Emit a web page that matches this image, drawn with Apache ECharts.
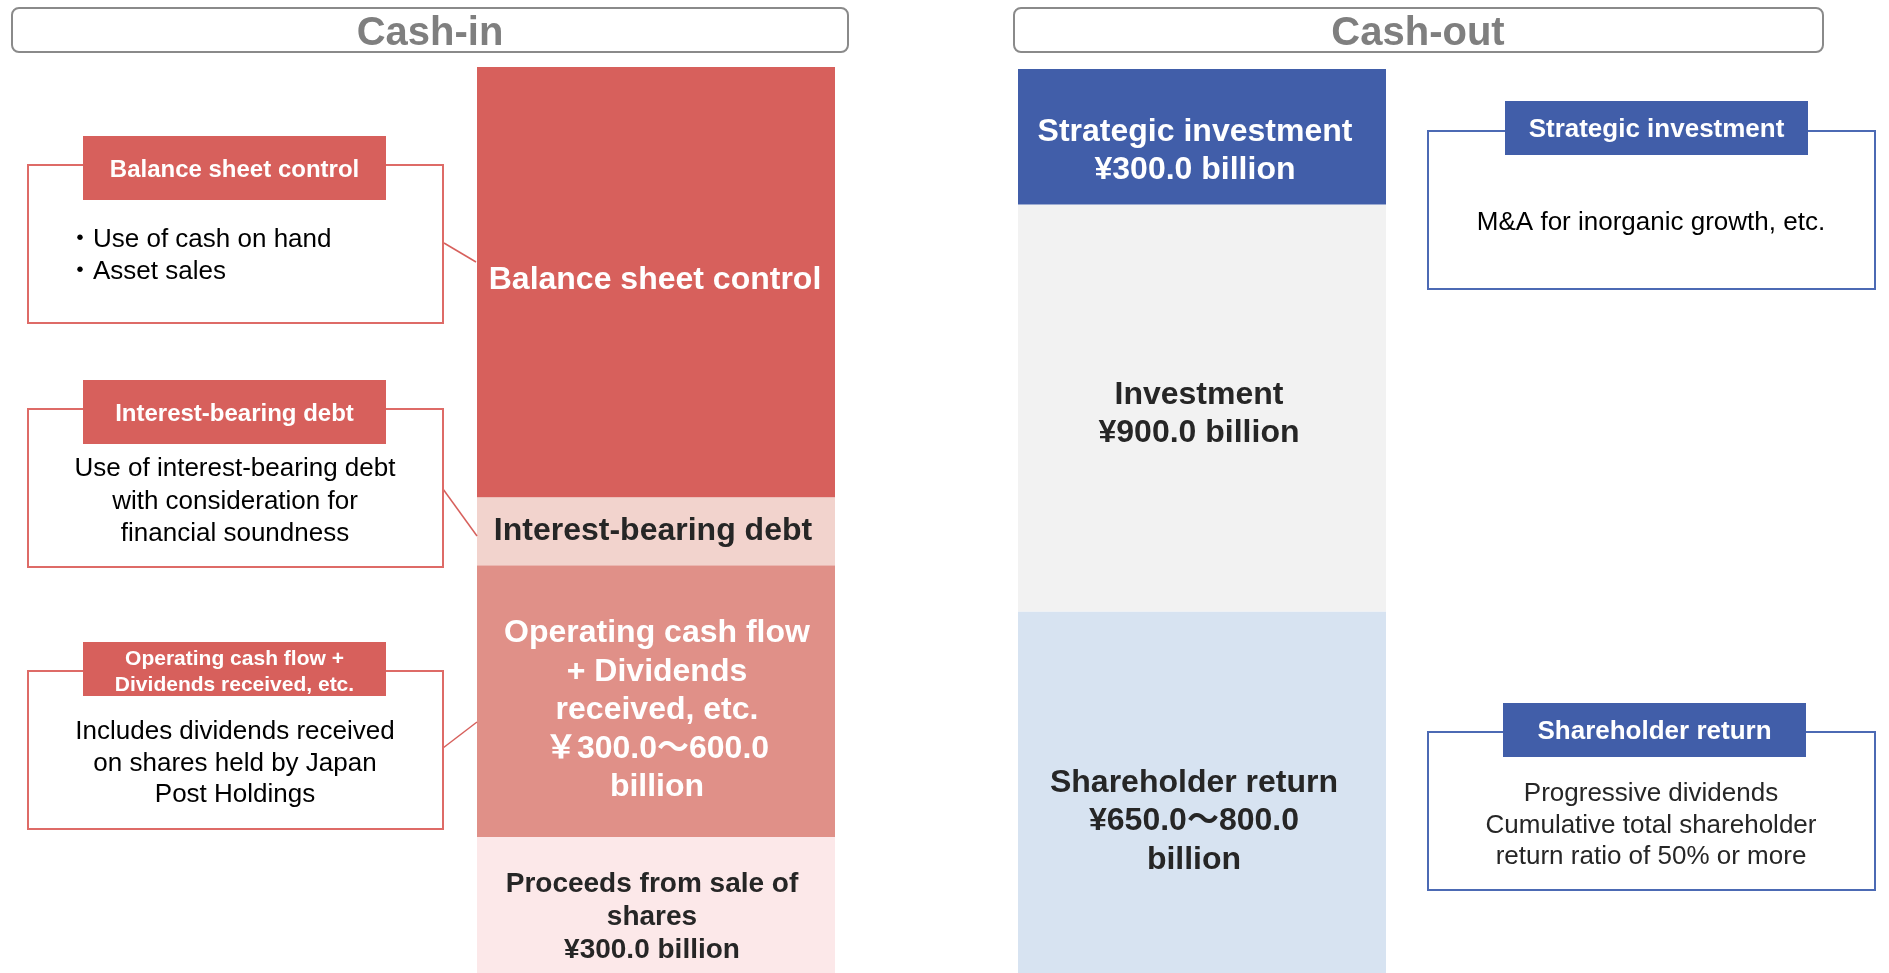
<!DOCTYPE html>
<html>
<head>
<meta charset="utf-8">
<script src="https://cdn.jsdelivr.net/npm/echarts@6/dist/echarts.min.js"></script>
<style>
  html, body { margin: 0; padding: 0; background: #ffffff; }
  #chart { width: 1889px; height: 973px; }
</style>
</head>
<body>
<div id="chart"></div>
<script>
// ---------- Data (billion yen) ----------
const headerTitles = ['Cash-in', 'Cash-out'];

// Cash-in stack, bottom to top
const cashInNames = ['Proceeds from sale of shares', 'Operating cash flow + Dividends received, etc.', 'Interest-bearing debt', 'Balance sheet control'];
const cashInValues = [300, 600, 150, 950];
const cashInLabels = [
  'Proceeds from sale of\nshares\n¥300.0 billion',
  'Operating cash flow\n+ Dividends\nreceived, etc.\n￥300.0～600.0\nbillion',
  'Interest-bearing debt',
  'Balance sheet control'
];

// Cash-out stack, bottom to top
const cashOutNames = ['Shareholder return', 'Investment', 'Strategic investment'];
const cashOutValues = [800, 900, 300];
const cashOutLabels = [
  'Shareholder return\n¥650.0～800.0\nbillion',
  'Investment\n¥900.0 billion',
  'Strategic investment\n¥300.0 billion'
];

const stackMax = 2000;

// Annotation texts
const noteInTitles = [['Balance sheet control'], ['Interest-bearing debt'], ['Operating cash flow +', 'Dividends received, etc.']];
const noteInBodies = [
  ['・Use of cash on hand', '・Asset sales'],
  ['Use of interest-bearing debt', 'with consideration for', 'financial soundness'],
  ['Includes dividends received', 'on shares held by Japan', 'Post Holdings']
];
const noteOutTitles = ['Strategic investment', 'Shareholder return'];
const noteOutBodies = [
  ['M&A for inorganic growth, etc.'],
  ['Progressive dividends', 'Cumulative total shareholder', 'return ratio of 50% or more']
];

// ---------- Styles ----------
const FONT = "'Liberation Sans', Arial, 'Noto Sans CJK JP', sans-serif";
const inColors = ['#FCE8E9', '#E09088', '#F2D3CD', '#D7605C'];
const inTextColors = ['#262626', '#ffffff', '#262626', '#ffffff'];
const inFontSizes = [28, 32, 32, 32];
const inLineHeights = [33, 38.5, 38, 38];
const inOffsets = [[-4, 12], [1, 9], [-3, 0], [-1, -2]];

const outColors = ['#D7E3F1', '#F2F2F2', '#415EA9'];
const outTextColors = ['#262626', '#262626', '#ffffff'];
const outLineHeights = [38.5, 38, 38];
const outOffsets = [[-8, 29], [-3, 6], [-7, 14]];

const RED = '#D7605C';
const RED_LINE = '#DE6B67';
const BLUE = '#415EA9';
const BLUE_LINE = '#4C6AB4';
const TEXT_DY = 2;

const chart = echarts.init(document.getElementById('chart'), null, { renderer: 'canvas' });

const series = [];
cashInValues.forEach((v, i) => {
  series.push({
    type: 'bar', name: cashInNames[i], stack: 'in', xAxisIndex: 0, yAxisIndex: 0,
    barWidth: '100%', data: [v], silent: true,
    itemStyle: { color: inColors[i] },
    label: {
      show: true, position: 'inside', formatter: cashInLabels[i],
      color: inTextColors[i], fontSize: inFontSizes[i], fontWeight: 'bold',
      fontFamily: FONT, lineHeight: inLineHeights[i], offset: inOffsets[i], align: 'center'
    }
  });
});
cashOutValues.forEach((v, i) => {
  series.push({
    type: 'bar', name: cashOutNames[i], stack: 'out', xAxisIndex: 1, yAxisIndex: 1,
    barWidth: '100%', data: [v], silent: true,
    itemStyle: { color: outColors[i] },
    label: {
      show: true, position: 'inside', formatter: cashOutLabels[i],
      color: outTextColors[i], fontSize: 32, fontWeight: 'bold',
      fontFamily: FONT, lineHeight: outLineHeights[i], offset: outOffsets[i], align: 'center'
    }
  });
});

function txt(text, x, y, size, weight, color, align, family) {
  return {
    type: 'text', silent: true, z: 10,
    style: {
      text: text, x: x, y: y + TEXT_DY,
      fontSize: size, fontWeight: weight, fontFamily: family || FONT,
      fill: color, align: align || 'center', verticalAlign: 'middle',
      textAlign: align || 'center', textVerticalAlign: 'middle'
    }
  };
}
function rect(x, y, w, h, fill, stroke, lw, r) {
  return {
    type: 'rect', silent: true, z: 5,
    shape: { x: x, y: y, width: w, height: h, r: r || 0 },
    style: { fill: fill, stroke: stroke || null, lineWidth: lw || 0 }
  };
}
function line(x1, y1, x2, y2, color) {
  return {
    type: 'line', silent: true, z: 4,
    shape: { x1: x1, y1: y1, x2: x2, y2: y2 },
    style: { stroke: color, lineWidth: 1.5 }
  };
}

const graphics = [];
// Headers
const HEAD_FONT = "'Liberation Sans Narrow', 'Liberation Sans', Arial, sans-serif";
graphics.push(rect(12, 8, 836, 44, '#ffffff', '#8A8A8A', 2, 7));
graphics.push(txt(headerTitles[0], 430, 32, 40, 'bold', '#7F7F7F', 'center', HEAD_FONT));
graphics.push(rect(1014, 8, 809, 44, '#ffffff', '#8A8A8A', 2, 7));
graphics.push(txt(headerTitles[1], 1418, 32, 40, 'bold', '#7F7F7F', 'center', HEAD_FONT));

// Left annotation boxes
const inBoxTop = [165, 409, 671];
const inTagTop = [136, 380, 642];
const inTagH = [64, 64, 54];
const inBodyY = [[238, 270], [467, 500, 532], [730, 762, 793]];
const inConnectors = [[444, 243, 476, 262], [443, 489, 477, 536], [443, 748, 477, 722]];
noteInTitles.forEach((t, i) => {
  graphics.push(rect(28, inBoxTop[i], 415, 158, '#ffffff', RED_LINE, 2));
  graphics.push(rect(83, inTagTop[i], 303, inTagH[i], RED));
  if (t.length === 1) {
    graphics.push(txt(t[0], 234.5, inTagTop[i] + inTagH[i] / 2, 24, 'bold', '#ffffff'));
  } else {
    graphics.push(txt(t[0], 234.5, inTagTop[i] + 15, 21, 'bold', '#ffffff'));
    graphics.push(txt(t[1], 234.5, inTagTop[i] + 41, 21, 'bold', '#ffffff'));
  }
  noteInBodies[i].forEach((b, j) => {
    if (i === 0) {
      graphics.push(txt(b, 67, inBodyY[i][j], 26, 'normal', '#000000', 'left'));
    } else {
      graphics.push(txt(b, 235, inBodyY[i][j], 26, 'normal', '#000000', 'center'));
    }
  });
  const c = inConnectors[i];
  graphics.push(line(c[0], c[1], c[2], c[3], RED));
});

// Right annotation boxes
const outBoxTop = [131, 732];
const outTagTop = [101, 703];
const outTagX = [1505, 1503];
const outBodyY = [[221], [792, 824, 855]];
const outBodyColor = ['#000000', '#262626'];
noteOutTitles.forEach((t, i) => {
  graphics.push(rect(1428, outBoxTop[i], 447, 158, '#ffffff', BLUE_LINE, 2));
  graphics.push(rect(outTagX[i], outTagTop[i], 303, 54, BLUE));
  graphics.push(txt(t, outTagX[i] + 151.5, outTagTop[i] + 27, 26, 'bold', '#ffffff'));
  noteOutBodies[i].forEach((b, j) => {
    graphics.push(txt(b, 1651, outBodyY[i][j], 26, 'normal', outBodyColor[i], 'center'));
  });
});

const option = {
  animation: false,
  backgroundColor: '#ffffff',
  grid: [
    { left: 477, width: 358, top: 67, height: 907 },
    { left: 1018, width: 368, top: 69, height: 905 }
  ],
  xAxis: [
    { type: 'category', gridIndex: 0, data: [headerTitles[0]], show: false, boundaryGap: true },
    { type: 'category', gridIndex: 1, data: [headerTitles[1]], show: false, boundaryGap: true }
  ],
  yAxis: [
    { type: 'value', gridIndex: 0, min: 0, max: stackMax, show: false },
    { type: 'value', gridIndex: 1, min: 0, max: stackMax, show: false }
  ],
  series: series,
  graphic: { elements: graphics }
};
chart.setOption(option);
</script>
</body>
</html>
